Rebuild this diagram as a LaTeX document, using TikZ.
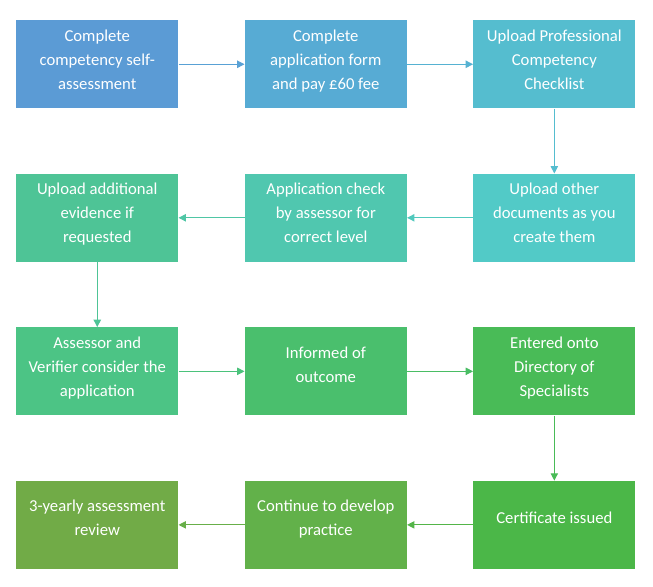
\documentclass[tikz,border=0pt]{standalone}
\usepackage{fontspec}
\setmainfont{Carlito}
\usepackage{xcolor}
\usepackage{tikz}
\usetikzlibrary{positioning,arrows.meta}
\definecolor{stepA}{HTML}{5B9BD5}
\definecolor{stepB}{HTML}{57ABD4}
\definecolor{stepC}{HTML}{55BDCF}
\definecolor{stepD}{HTML}{52CAC7}
\definecolor{stepE}{HTML}{50C7AF}
\definecolor{stepF}{HTML}{4EC496}
\definecolor{stepG}{HTML}{4CC485}
\definecolor{stepH}{HTML}{4ABF6D}
\definecolor{stepI}{HTML}{49BB57}
\definecolor{stepJ}{HTML}{4BB748}
\definecolor{stepK}{HTML}{62B14A}
\definecolor{stepL}{HTML}{71AB47}
\newcommand{\liftthree}{\\[-11pt]}
\newcommand{\lifttwo}{\\[-8pt]}
\tikzset{
  stepbox/.style={fill=#1,draw=none,text=white,align=center,
    minimum width=121.5pt,minimum height=66pt,inner sep=4pt,
    font=\fontsize{12.5}{18}\selectfont},
  steparrow/.style={-{Triangle[length=5.5pt,width=5.5pt]},line width=0.8pt,draw=#1}
}

\begin{document}
\begin{tikzpicture}[node distance=48.75pt and 49.5pt]
    \useasboundingbox (0,0) rectangle (489.75pt,-439.5pt);
    % row 1
    \node[stepbox=stepA,anchor=north west] (selfcheck) at (12pt,-15pt)
      {Complete\\competency self-\\assessment\liftthree};
    \node[stepbox=stepB,right=of selfcheck] (applyform)
      {Complete\\application form\\and pay \pounds60 fee\liftthree};
    \node[stepbox=stepC,right=of applyform] (checklist)
      {Upload Professional\\Competency\\Checklist\liftthree};
    % row 2
    \node[stepbox=stepD,below=of checklist] (otherdocs)
      {Upload other\\documents as you\\create them\liftthree};
    \node[stepbox=stepE,left=of otherdocs] (levelcheck)
      {Application check\\by assessor for\\correct level\liftthree};
    \node[stepbox=stepF,left=of levelcheck] (evidence)
      {Upload additional\\evidence if\\requested\liftthree};
    % row 3
    \node[stepbox=stepG,below=of evidence] (consider)
      {Assessor and\\Verifier consider the\\application\liftthree};
    \node[stepbox=stepH,right=of consider] (outcome)
      {Informed of\\outcome\lifttwo};
    \node[stepbox=stepI,right=of outcome] (directory)
      {Entered onto\\Directory of\\Specialists\liftthree};
    % row 4
    \node[stepbox=stepJ,below=of directory] (certificate)
      {Certificate issued\lifttwo};
    \node[stepbox=stepK,left=of certificate] (practice)
      {Continue to develop\\practice\lifttwo};
    \node[stepbox=stepL,left=of practice] (review)
      {3-yearly assessment\\review\lifttwo};
    % connectors
    \draw[steparrow=stepA!60!stepB] (selfcheck) -- (applyform);
    \draw[steparrow=stepB!60!stepC] (applyform) -- (checklist);
    \draw[steparrow=stepC] (checklist) -- (otherdocs);
    \draw[steparrow=stepD!60!stepE] (otherdocs) -- (levelcheck);
    \draw[steparrow=stepE!60!stepF] (levelcheck) -- (evidence);
    \draw[steparrow=stepF] (evidence) -- (consider);
    \draw[steparrow=stepG!60!stepH] (consider) -- (outcome);
    \draw[steparrow=stepH!60!stepI] (outcome) -- (directory);
    \draw[steparrow=stepI] (directory) -- (certificate);
    \draw[steparrow=stepJ!60!stepK] (certificate) -- (practice);
    \draw[steparrow=stepK!60!stepL] (practice) -- (review);
  \end{tikzpicture}
\end{document}
